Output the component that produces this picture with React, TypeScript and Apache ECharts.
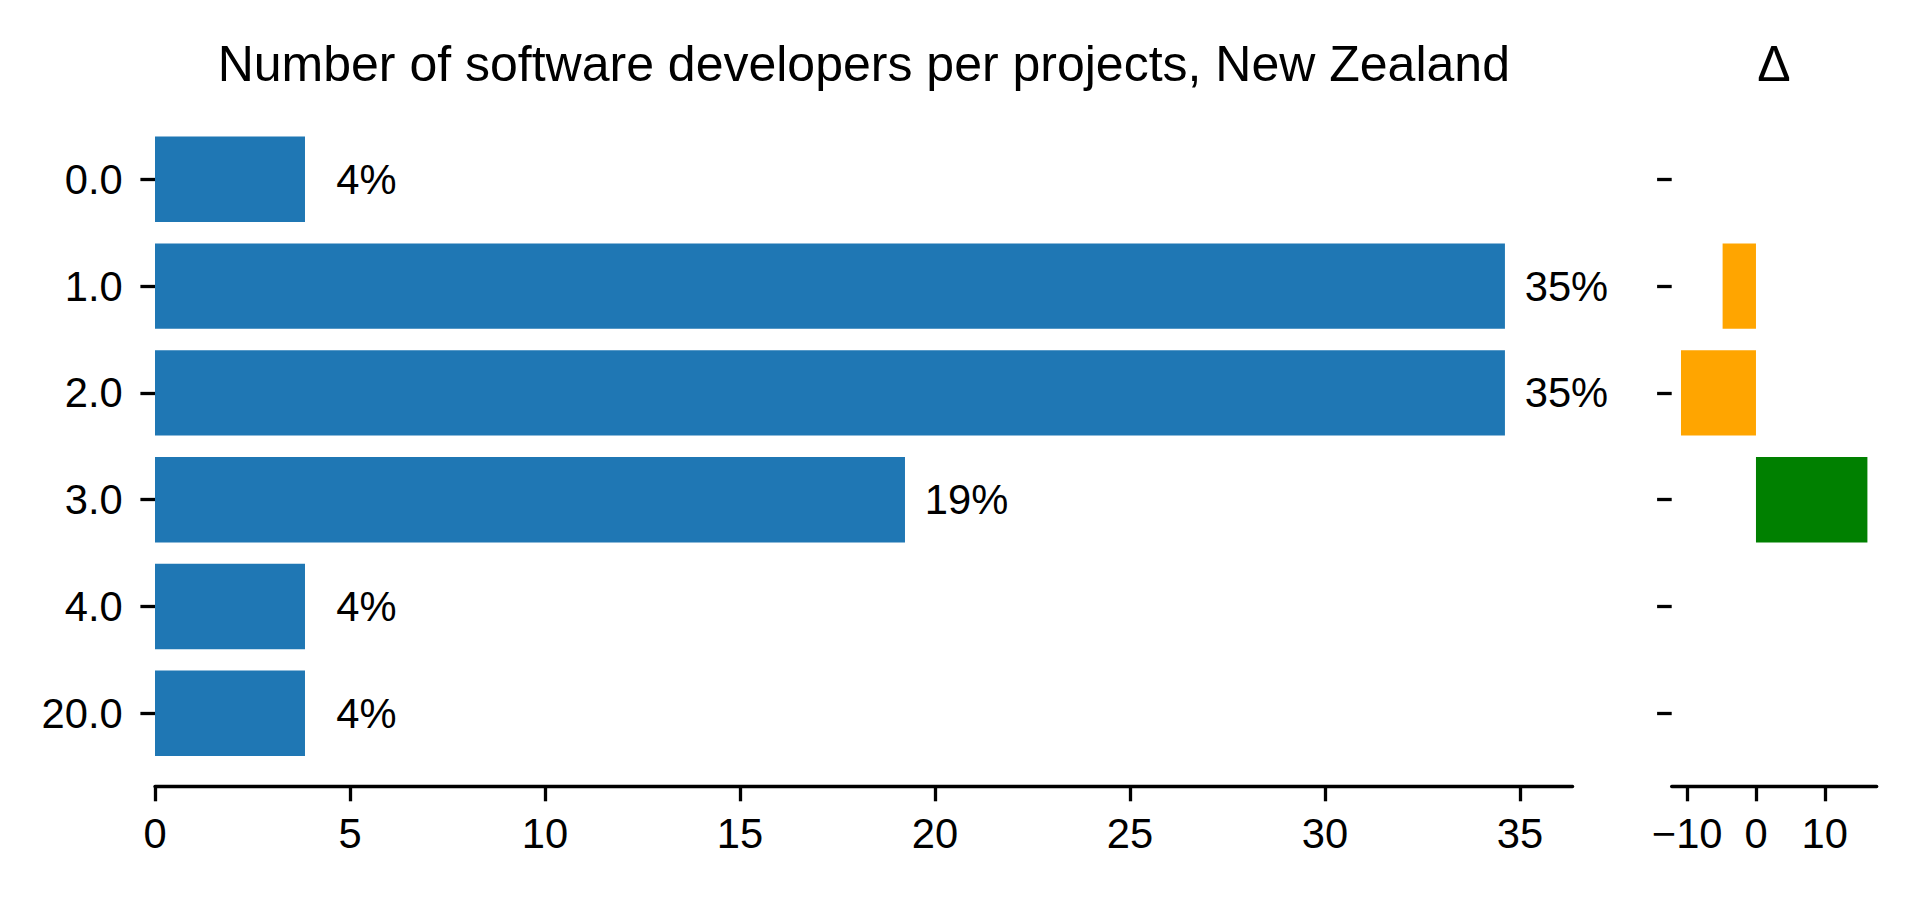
import React, { useEffect, useRef } from 'react';
import * as echarts from 'echarts';

const categories = ['0.0', '1.0', '2.0', '3.0', '4.0', '20.0'];
const shares = [3.846, 34.615, 34.615, 19.231, 3.846, 3.846];
const deltas: (number | null)[] = [null, -4.85, -10.9, 16.2, null, null];
const mainTicks = [0, 5, 10, 15, 20, 25, 30, 35];
const deltaTicks = [-10, 0, 10];
const mainTitle = 'Number of software developers per projects, New Zealand';
const deltaTitle = 'Δ';

const FONT = '"Liberation Sans", Arial, Helvetica, sans-serif';
const TICK_FS = 41.7;
const LW = 3.3;
const TICK_LEN = 14.6;

export default function App() {
  const ref = useRef<HTMLDivElement>(null);
  useEffect(() => {
    if (!ref.current) return;
    const chart = echarts.init(ref.current, undefined, { renderer: 'svg' });
    const gridTop = 125.9;
    const gridH = 640.8;
    const fmt = (v: number) => (v < 0 ? '\u2212' + Math.abs(v) : String(v));
    const axisLineStyle = { color: '#000', width: LW };
    chart.setOption({
      animation: false,
      backgroundColor: '#fff',
      textStyle: { fontFamily: FONT },
      grid: [
        { left: 155, top: gridTop, width: 1417.6, height: gridH },
        { left: 1671.7, top: gridTop, width: 205, height: gridH },
      ],
      graphic: [
        {
          type: 'text', x: 863.8, y: 64.4,
          style: {
            text: mainTitle, fontSize: 50, fontFamily: FONT, fill: '#000',
            textAlign: 'center', textVerticalAlign: 'middle', align: 'center', verticalAlign: 'middle',
          },
        },
        {
          type: 'text', x: 1774, y: 64.4,
          style: {
            text: deltaTitle, fontSize: 50, fontFamily: FONT, fill: '#000',
            textAlign: 'center', textVerticalAlign: 'middle', align: 'center', verticalAlign: 'middle',
          },
        },
      ],
      xAxis: [
        {
          type: 'value', gridIndex: 0, min: 0, max: 36.35, offset: 20,
          axisLine: { show: true, onZero: false, lineStyle: axisLineStyle },
          axisTick: { show: true, length: TICK_LEN, lineStyle: axisLineStyle, customValues: mainTicks },
          axisLabel: { customValues: mainTicks, fontSize: TICK_FS, color: '#000', margin: 26, fontFamily: FONT, formatter: fmt },
          splitLine: { show: false },
        },
        {
          type: 'value', gridIndex: 1, min: -12.25, max: 17.55, offset: 20,
          axisLine: { show: true, onZero: false, lineStyle: axisLineStyle },
          axisTick: { show: true, length: TICK_LEN, lineStyle: axisLineStyle, customValues: deltaTicks },
          axisLabel: { customValues: deltaTicks, fontSize: TICK_FS, color: '#000', margin: 26, fontFamily: FONT, formatter: fmt },
          splitLine: { show: false },
        },
      ],
      yAxis: [
        {
          type: 'category', gridIndex: 0, data: categories, inverse: true,
          axisLine: { show: false, onZero: false },
          axisTick: { show: true, length: TICK_LEN, alignWithLabel: true, lineStyle: axisLineStyle },
          axisLabel: { fontSize: TICK_FS, color: '#000', margin: 32.3, fontFamily: FONT, padding: [5, 0, 0, 0] },
          splitLine: { show: false },
        },
        {
          type: 'category', gridIndex: 1, data: categories, inverse: true,
          axisLine: { show: false, onZero: false },
          axisTick: { show: true, length: TICK_LEN, alignWithLabel: true, lineStyle: axisLineStyle },
          axisLabel: { show: false },
          splitLine: { show: false },
        },
      ],
      series: [
        {
          type: 'bar', xAxisIndex: 0, yAxisIndex: 0, data: shares, barWidth: 85.4,
          itemStyle: { color: '#1f77b4' },
          label: {
            show: true,
            position: ['100%', '50%'],
            offset: [61.5, 0],
            align: 'center',
            verticalAlign: 'middle',
            fontSize: TICK_FS,
            fontFamily: FONT,
            color: '#000',
            formatter: (p: any) => Math.round(p.value) + '%',
          },
        },
        {
          type: 'bar', xAxisIndex: 1, yAxisIndex: 1, barWidth: 85.4,
          data: deltas.map((v) =>
            v == null ? null : { value: v, itemStyle: { color: v < 0 ? '#FFA500' : '#008000' } }
          ),
        },
      ],
    });
    return () => chart.dispose();
  }, []);
  return (
    <div
      ref={ref}
      style={{ position: 'fixed', left: 0, top: 0, width: 1920, height: 900, background: '#fff' }}
    />
  );
}
